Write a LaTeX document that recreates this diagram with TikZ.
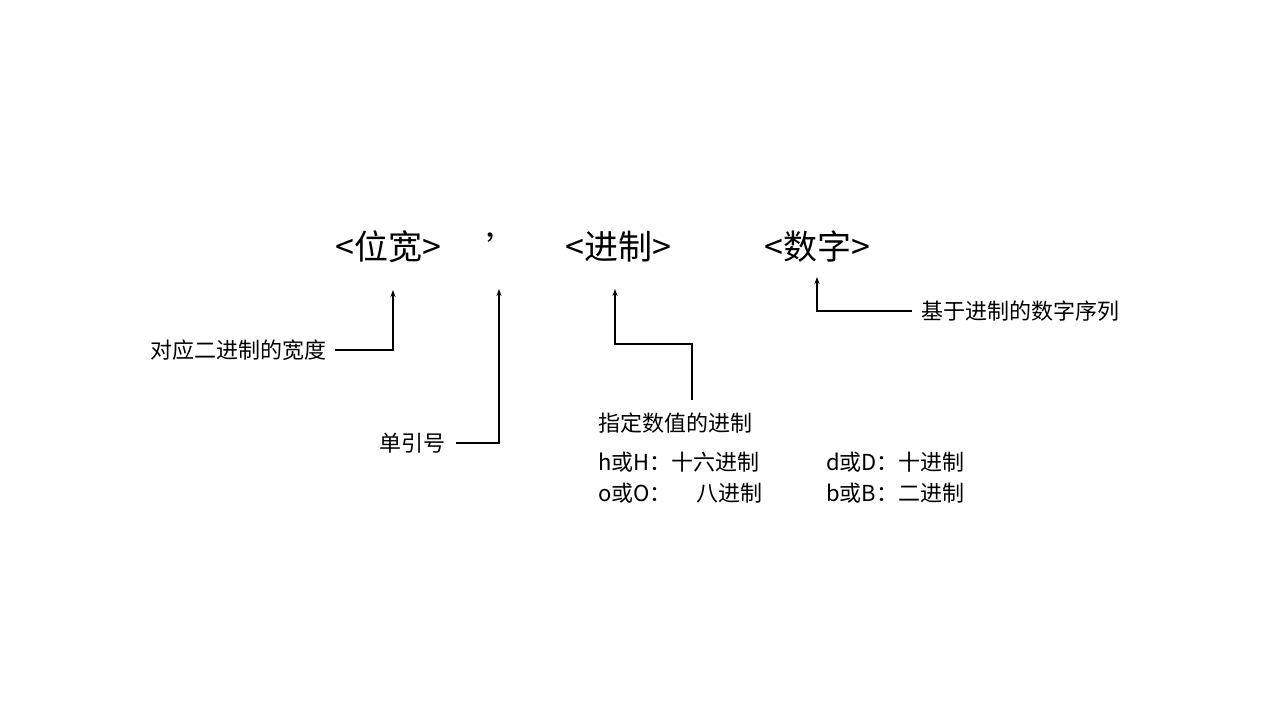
\documentclass[tikz,border=0pt]{standalone}
\usepackage{fontspec}
\setmainfont{Noto Sans CJK SC}
\usetikzlibrary{arrows.meta}
\begin{document}
\begin{tikzpicture}[x=1pt,y=-1pt,
  big/.style={font=\fontsize{34}{40}\selectfont,inner sep=0pt},
  lbl/.style={font=\fontsize{22}{26}\selectfont,inner sep=0pt},
  conn/.style={line width=1.3pt,-{Stealth[length=7pt,width=5pt]}}]
\useasboundingbox (0,0) rectangle (1280,720);
\node[big] (w) at (388,247) {<位宽>};
\node[big] (q) at (503,247) {’};
\node[big] (b) at (618,247) {<进制>};
\node[big] (n) at (817,247) {<数字>};
\node[lbl,anchor=east] (l1) at (327,350) {对应二进制的宽度};
\node[lbl,anchor=east] (l2) at (446,443) {单引号};
\node[lbl,anchor=west] (l3) at (598,423) {指定数值的进制};
\node[lbl,anchor=west] (l3a) at (598,462) {h或H：十六进制};
\node[lbl,anchor=west] (l3b) at (826,462) {d或D：十进制};
\node[lbl,anchor=west] (l3c) at (598,493) {o或O：\hspace{1.1em}八进制};
\node[lbl,anchor=west] (l3d) at (826,493) {b或B：二进制};
\node[lbl,anchor=west] (l4) at (921,311) {基于进制的数字序列};
\coordinate (a1) at (393,290);
\coordinate (a2) at (499,289);
\coordinate (a3) at (615,289);
\coordinate (a4) at (817,277);
\draw[conn] (335,350) -| (a1);
\draw[conn] (456,443) -| (a2);
\draw[conn] (692,400) -- (692,344) -| (a3);
\draw[conn] (912,311) -| (a4);
\end{tikzpicture}
\end{document}
